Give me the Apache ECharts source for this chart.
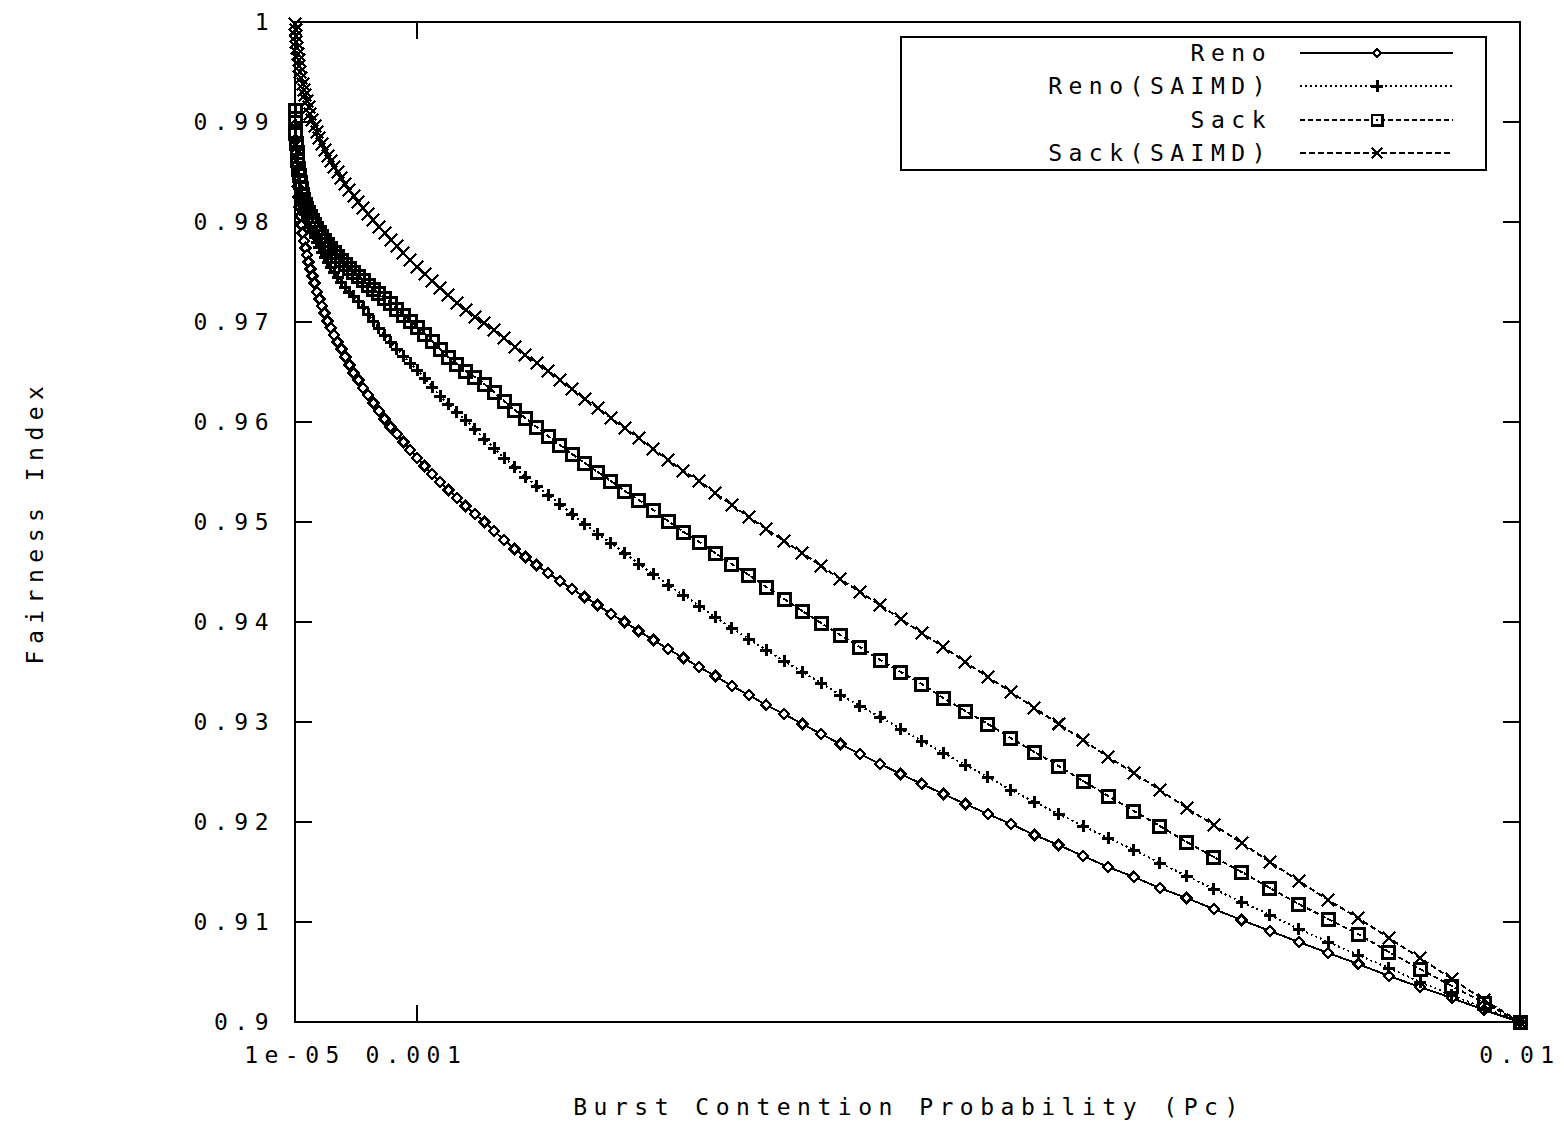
<!DOCTYPE html>
<html>
<head>
<meta charset="utf-8">
<title>Fairness Index vs Burst Contention Probability</title>
<script src="https://cdn.jsdelivr.net/npm/echarts@6/dist/echarts.min.js"></script>
<style>
  html, body { margin: 0; padding: 0; background: #fff; }
  /* gnuplot's pixel font is very wide: mimic it with a spaced monospace */
  #chart { width: 1564px; height: 1124px; letter-spacing: 6.5px; }
  #chart svg path { shape-rendering: crispEdges; }
</style>
</head>
<body>
<div id="chart"></div>
<script>
// Burst contention probability, in units of 1e-4
const PC_E4 = [
  0.1097, 0.1412, 0.1782, 0.2212, 0.2705, 0.3268, 0.3903, 0.4615, 0.5410, 0.6290,
  0.7262, 0.8328, 0.9494, 1.0765, 1.2143, 1.3635, 1.5244, 1.6975, 1.8833, 2.0821,
  2.2945, 2.5208, 2.7615, 3.0170, 3.2880, 3.5746, 3.8774, 4.1968, 4.5334, 4.8875,
  5.2595, 5.6499, 6.0592, 6.4878, 6.9362, 7.4047, 7.8939, 8.4042, 8.9361, 9.4899,
  10.066, 10.665, 11.288, 11.934, 12.604, 13.299, 14.019, 14.765, 15.536, 16.335,
  17.159, 18.012, 18.891, 19.800, 20.737, 21.702, 22.698, 23.724, 24.780, 25.866,
  26.984, 28.133, 29.316, 30.530, 31.778, 33.060, 34.375, 35.725, 37.109, 38.529,
  39.984, 41.477, 43.006, 44.571, 46.175, 47.816, 49.495, 51.214, 52.972, 54.769,
  56.606, 58.485, 60.404, 62.366, 64.369, 66.415, 68.503, 70.635, 72.811, 75.031,
  77.296, 79.604, 81.960, 84.360, 86.809, 89.303, 91.845, 94.437, 97.075, 100.00
];

const RENO = [
  0.9897, 0.9882, 0.9869, 0.9857, 0.9846, 0.9835, 0.9825, 0.9815, 0.9806, 0.9797,
  0.9789, 0.9781, 0.9774, 0.9767, 0.9760, 0.9753, 0.9746, 0.9739, 0.9730, 0.9723,
  0.9716, 0.9709, 0.9701, 0.9694, 0.9687, 0.9680, 0.9673, 0.9665, 0.9657, 0.9649,
  0.9642, 0.9634, 0.9627, 0.9619, 0.9611, 0.9603, 0.9595, 0.9588, 0.9580, 0.9572,
  0.9564, 0.9556, 0.9548, 0.9540, 0.9532, 0.9524, 0.9516, 0.9508, 0.9500, 0.9491,
  0.9482, 0.9473, 0.9465, 0.9457, 0.9449, 0.9441, 0.9433, 0.9425, 0.9417, 0.9408,
  0.9400, 0.9391, 0.9382, 0.9373, 0.9364, 0.9355, 0.9346, 0.9336, 0.9327, 0.9317,
  0.9308, 0.9298, 0.9288, 0.9278, 0.9268, 0.9258, 0.9248, 0.9238, 0.9228, 0.9218,
  0.9208, 0.9198, 0.9187, 0.9177, 0.9166, 0.9155, 0.9145, 0.9134, 0.9124, 0.9113,
  0.9102, 0.9091, 0.9080, 0.9069, 0.9058, 0.9046, 0.9035, 0.9024, 0.9012, 0.9000
];

const RENO_SAIMD = [
  0.9910, 0.9897, 0.9885, 0.9874, 0.9864, 0.9855, 0.9847, 0.9840, 0.9833, 0.9827,
  0.9821, 0.9815, 0.9810, 0.9805, 0.9800, 0.9795, 0.9790, 0.9785, 0.9780, 0.9775,
  0.9770, 0.9765, 0.9760, 0.9755, 0.9750, 0.9745, 0.9740, 0.9735, 0.9730, 0.9726,
  0.9721, 0.9715, 0.9708, 0.9701, 0.9694, 0.9687, 0.9680, 0.9673, 0.9666, 0.9659,
  0.9652, 0.9644, 0.9635, 0.9626, 0.9618, 0.9610, 0.9602, 0.9593, 0.9583, 0.9574,
  0.9564, 0.9555, 0.9545, 0.9536, 0.9527, 0.9518, 0.9508, 0.9498, 0.9488, 0.9479,
  0.9469, 0.9458, 0.9448, 0.9437, 0.9427, 0.9416, 0.9405, 0.9394, 0.9383, 0.9372,
  0.9361, 0.9350, 0.9339, 0.9327, 0.9316, 0.9305, 0.9293, 0.9281, 0.9269, 0.9257,
  0.9245, 0.9232, 0.9220, 0.9208, 0.9196, 0.9184, 0.9172, 0.9159, 0.9146, 0.9133,
  0.9120, 0.9107, 0.9093, 0.9080, 0.9067, 0.9054, 0.9040, 0.9027, 0.9014, 0.9000
];

const SACK = [
  0.9912, 0.9900, 0.9889, 0.9879, 0.9870, 0.9862, 0.9854, 0.9847, 0.9840, 0.9834,
  0.9828, 0.9823, 0.9818, 0.9814, 0.9810, 0.9806, 0.9802, 0.9798, 0.9794, 0.9790,
  0.9786, 0.9782, 0.9778, 0.9774, 0.9770, 0.9766, 0.9762, 0.9758, 0.9754, 0.9750,
  0.9746, 0.9742, 0.9737, 0.9733, 0.9729, 0.9724, 0.9719, 0.9713, 0.9707, 0.9701,
  0.9695, 0.9688, 0.9681, 0.9673, 0.9665, 0.9658, 0.9651, 0.9645, 0.9638, 0.9630,
  0.9621, 0.9612, 0.9604, 0.9595, 0.9586, 0.9577, 0.9568, 0.9559, 0.9550, 0.9541,
  0.9531, 0.9522, 0.9512, 0.9501, 0.9490, 0.9480, 0.9469, 0.9458, 0.9447, 0.9435,
  0.9423, 0.9411, 0.9399, 0.9387, 0.9375, 0.9362, 0.9350, 0.9338, 0.9324, 0.9311,
  0.9298, 0.9284, 0.9270, 0.9256, 0.9241, 0.9226, 0.9211, 0.9196, 0.9180, 0.9165,
  0.9150, 0.9134, 0.9118, 0.9103, 0.9088, 0.9070, 0.9053, 0.9036, 0.9019, 0.9000
];

const SACK_SAIMD = [
  0.9998, 0.9992, 0.9986, 0.9980, 0.9974, 0.9968, 0.9962, 0.9956, 0.9950, 0.9944,
  0.9938, 0.9932, 0.9927, 0.9921, 0.9915, 0.9908, 0.9902, 0.9896, 0.9890, 0.9884,
  0.9878, 0.9872, 0.9866, 0.9861, 0.9855, 0.9850, 0.9844, 0.9838, 0.9832, 0.9826,
  0.9820, 0.9814, 0.9808, 0.9802, 0.9795, 0.9789, 0.9782, 0.9776, 0.9769, 0.9762,
  0.9755, 0.9748, 0.9741, 0.9734, 0.9727, 0.9719, 0.9712, 0.9705, 0.9699, 0.9692,
  0.9684, 0.9675, 0.9667, 0.9659, 0.9651, 0.9642, 0.9633, 0.9623, 0.9614, 0.9604,
  0.9594, 0.9584, 0.9573, 0.9562, 0.9551, 0.9541, 0.9529, 0.9517, 0.9505, 0.9493,
  0.9481, 0.9469, 0.9456, 0.9443, 0.9430, 0.9417, 0.9403, 0.9389, 0.9375, 0.9360,
  0.9345, 0.9330, 0.9314, 0.9298, 0.9282, 0.9265, 0.9249, 0.9232, 0.9214, 0.9197,
  0.9179, 0.9160, 0.9141, 0.9122, 0.9104, 0.9084, 0.9064, 0.9043, 0.9022, 0.9000
];

const X_TICKS = [1e-5, 0.001, 0.01];
const X_TICK_LABELS = ['1e-05', '0.001', '0.01'];

const SERIES_NAMES = ['Reno', 'Reno(SAIMD)', 'Sack', 'Sack(SAIMD)'];

const FONT = '"DejaVu Sans Mono", "Liberation Mono", monospace';
const FONT_SIZE = 23;
const INK = '#000';

// marker outlines (gnuplot point types), as polygons in their own box
const POLYS = {
  diamond: [[5, 0], [10, 5], [5, 10], [0, 5]],
  plus: [[4.5, 0], [7.5, 0], [7.5, 4.5], [12, 4.5], [12, 7.5], [7.5, 7.5], [7.5, 12], [4.5, 12], [4.5, 7.5], [0, 7.5], [0, 4.5], [4.5, 4.5]],
  cross: [[0, 1.5], [1.5, 0], [7, 5.5], [12.5, 0], [14, 1.5], [8.5, 7], [14, 12.5], [12.5, 14], [7, 8.5], [1.5, 14], [0, 12.5], [5.5, 7]]
};

function polyPath(pts) {
  return 'M' + pts.map(p => p[0] + ' ' + p[1]).join('L') + 'Z';
}

const SYMBOLS = {
  diamond: 'path://' + polyPath(POLYS.diamond),
  plus: 'path://' + polyPath(POLYS.plus),
  box: 'path://M0 0H15V15H0Z M3 3V12H12V3Z M6.5 6.5H8.5V8.5H6.5Z',
  cross: 'path://' + polyPath(POLYS.cross)
};

const STYLES = [
  { shape: 'diamond', size: 10, hollow: true, dash: 'solid', legendSize: 8 },
  { shape: 'plus', size: 12, hollow: false, dash: [2, 3], legendSize: 12 },
  { shape: 'box', size: 15, hollow: false, dash: [5, 3], legendSize: 13 },
  { shape: 'cross', size: 14, hollow: false, dash: [6, 3], legendSize: 12 }
];

const VALUES = [RENO, RENO_SAIMD, SACK, SACK_SAIMD];

function pairs(ys) {
  return PC_E4.map((p, i) => [p * 1e-4, ys[i]]);
}

function xLabel(v) {
  const i = X_TICKS.findIndex(t => Math.abs(t - v) < 1e-9);
  return i >= 0 ? X_TICK_LABELS[i] : '';
}

const chart = echarts.init(document.getElementById('chart'), null, { renderer: 'svg' });

const axisLine = { show: true, onZero: false, lineStyle: { color: INK, width: 2 } };
const tickStyle = { color: INK, width: 2 };

const series = SERIES_NAMES.map((name, i) => {
  const st = STYLES[i];
  return {
    name,
    type: 'line',
    data: pairs(VALUES[i]),
    symbol: SYMBOLS[st.shape],
    symbolSize: st.size,
    showAllSymbol: true,
    clip: false,
    z: 2 + i,
    lineStyle: { color: INK, width: 2, type: st.dash },
    itemStyle: st.hollow
      ? { color: '#fff', borderColor: INK, borderWidth: 2.5 }
      : { color: INK, borderWidth: 0 },
    emphasis: { disabled: true }
  };
});

// legend marker made of graphic primitives, centred on (cx, cy)
function legendMarker(st, cx, cy) {
  const s = st.legendSize;
  const half = s / 2;
  if (st.shape === 'box') {
    return [
      { type: 'rect', z: 12, shape: { x: cx - half + 1.25, y: cy - half + 1.25, width: s - 2.5, height: s - 2.5 },
        style: { fill: '#fff', stroke: INK, lineWidth: 2.5 } },
      { type: 'rect', z: 13, shape: { x: cx - 1, y: cy - 1, width: 2, height: 2 }, style: { fill: INK } }
    ];
  }
  const k = s / st.size;
  const pts = POLYS[st.shape].map(p => [cx - half + p[0] * k, cy - half + p[1] * k]);
  return [{
    type: 'polygon', z: 12,
    shape: { points: pts },
    style: st.hollow ? { fill: '#fff', stroke: INK, lineWidth: 2 } : { fill: INK }
  }];
}

// legend drawn by hand: right-aligned names, sample line with marker to the right
const legendRows = [53, 86, 120, 153];
let legendEls = [{
  type: 'rect',
  shape: { x: 901, y: 37, width: 585, height: 133 },
  style: { fill: '#fff', stroke: INK, lineWidth: 2 },
  z: 10
}];
SERIES_NAMES.forEach((name, i) => {
  const y = legendRows[i];
  const st = STYLES[i];
  legendEls.push({
    type: 'text', x: 1272, y, z: 11,
    style: { text: name, font: FONT_SIZE + 'px ' + FONT, fill: INK, align: 'right', verticalAlign: 'middle' }
  });
  legendEls.push({
    type: 'line', z: 11,
    shape: { x1: 1300, y1: y, x2: 1453, y2: y },
    style: { stroke: INK, lineWidth: 2, lineDash: st.dash === 'solid' ? null : st.dash }
  });
  legendEls = legendEls.concat(legendMarker(st, 1377, y));
});

chart.setOption({
  animation: false,
  backgroundColor: '#fff',
  grid: { left: 295, top: 22, right: 44, bottom: 102, containLabel: false, outerBoundsMode: 'none' },
  xAxis: [{
    type: 'value', position: 'bottom', min: 1e-5, max: 0.01,
    axisLine,
    axisTick: { inside: true, length: 17, customValues: X_TICKS, lineStyle: tickStyle },
    axisLabel: {
      customValues: X_TICKS, formatter: xLabel, color: INK,
      fontFamily: FONT, fontSize: FONT_SIZE, margin: 21
    },
    splitLine: { show: false }
  }, {
    type: 'value', position: 'top', min: 1e-5, max: 0.01,
    axisLine,
    axisTick: { inside: true, length: 17, customValues: X_TICKS, lineStyle: tickStyle },
    axisLabel: { show: false },
    splitLine: { show: false }
  }],
  yAxis: [{
    type: 'value', position: 'left', min: 0.9, max: 1, interval: 0.01,
    axisLine,
    axisTick: { inside: true, length: 17, lineStyle: tickStyle },
    axisLabel: {
      formatter: v => String(+v.toFixed(2)), color: INK,
      fontFamily: FONT, fontSize: FONT_SIZE, margin: 20
    },
    splitLine: { show: false }
  }, {
    type: 'value', position: 'right', min: 0.9, max: 1, interval: 0.01,
    axisLine,
    axisTick: { inside: true, length: 17, lineStyle: tickStyle },
    axisLabel: { show: false },
    splitLine: { show: false }
  }],
  series,
  graphic: [
    {
      type: 'text', x: 35, y: 522, rotation: Math.PI / 2,
      style: { text: 'Fairness Index', font: FONT_SIZE + 'px ' + FONT, fill: INK, align: 'center', verticalAlign: 'middle' }
    },
    {
      type: 'text', x: 909, y: 1107,
      style: { text: 'Burst Contention Probability (Pc)', font: FONT_SIZE + 'px ' + FONT, fill: INK, align: 'center', verticalAlign: 'middle' }
    }
  ].concat(legendEls)
});
</script>
</body>
</html>
